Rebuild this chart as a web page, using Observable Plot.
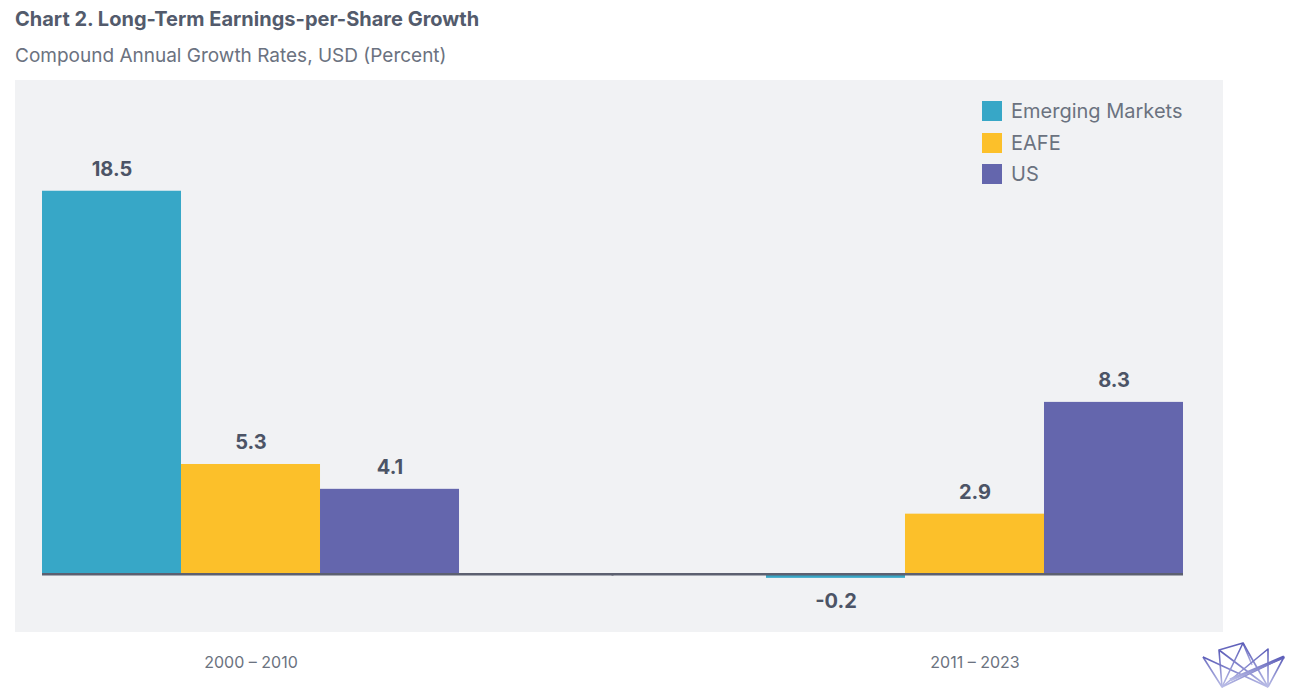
<!DOCTYPE html>
<html>
<head>
<meta charset="utf-8">
<script src="https://cdn.jsdelivr.net/npm/d3@7"></script>
<script src="https://cdn.jsdelivr.net/npm/@observablehq/plot@0.6"></script>
<style>
  html, body { margin: 0; padding: 0; background: #ffffff; width: 1300px; height: 700px; overflow: hidden; font-family: Inter, "Noto Sans", sans-serif; }
  #title { position: absolute; left: 15px; top: 9px; font-size: 20px; line-height: 1; font-weight: 700; color: #535b6c; white-space: nowrap; }
  #subtitle { position: absolute; left: 15px; top: 46px; font-size: 19px; line-height: 1; font-weight: 400; color: #6b7280; white-space: nowrap; }
  #panel { position: absolute; left: 15px; top: 80px; width: 1208px; height: 552px; background: #f1f2f4; }
  #chart { position: absolute; left: 0; top: 72px; }
  #legend { position: absolute; left: 982px; top: 101px; }
  .item { display: flex; align-items: center; height: 20px; margin-bottom: 11.5px; font-size: 20px; color: #6b7280; white-space: nowrap; }
  .sw { width: 20px; height: 20px; margin-right: 9px; flex: none; }
  #logo { position: absolute; left: 1190px; top: 635px; }
</style>
</head>
<body>
<div id="title">Chart 2. Long-Term Earnings-per-Share Growth</div>
<div id="subtitle">Compound Annual Growth Rates, USD (Percent)</div>
<div id="panel"></div>
<div id="chart"></div>
<div id="legend"></div>
<svg id="logo" width="110" height="60" viewBox="0 0 110 60">
  <defs>
    <linearGradient id="lg" x1="0" y1="0" x2="0" y2="1">
      <stop offset="0" stop-color="#5b5cb8"/>
      <stop offset="1" stop-color="#b9bce6"/>
    </linearGradient>
  </defs>
  <g fill="none" stroke="url(#lg)" stroke-width="1.6" stroke-linejoin="round">
    <polyline points="13,22 32,52 29,15 78,52"/>
    <polyline points="13,22 78,52"/>
    <polyline points="29,15 53,8 32,52"/>
    <polyline points="53,8 78,52"/>
    <polyline points="53,8 62,30"/>
    <polyline points="32,52 78,14 78,52"/>
    <polyline points="32,52 94,22 78,52"/>
    <polyline points="40,45 94,22" stroke-width="3"/>
  </g>
</svg>
<script>
const periods = ["2000 – 2010", "2011 – 2023"];
const series = ["Emerging Markets", "EAFE", "US"];
const emergingValues = [18.5, -0.2];
const eafeValues = [5.3, 2.9];
const usValues = [4.1, 8.3];
const colors = ["#37a7c7", "#fcc02a", "#6466ad"];

const valuesBySeries = [emergingValues, eafeValues, usValues];
const data = periods.flatMap((period, i) =>
  series.map((s, j) => ({period, series: s, value: valuesBySeries[j][i]}))
);

const W = 1300, ML = 42, MR = 117, PAD = 0.424;
// width of the empty space between the two facets, so the zero line can bridge it
const step = (W - ML - MR) / (periods.length - PAD);
const gap = step * PAD;

const chart = Plot.plot({
  width: W,
  height: 628,
  marginLeft: ML,
  marginRight: MR,
  marginTop: 4.9,
  marginBottom: 64.2,
  style: {background: "transparent", fontFamily: "Inter, 'Noto Sans', sans-serif", overflow: "visible"},
  fx: {domain: periods, paddingInner: PAD, paddingOuter: 0, round: false, label: null},
  x: {domain: series, padding: 0, round: false, axis: null},
  y: {domain: [-3, 24], axis: null},
  color: {domain: series, range: colors},
  marks: [
    Plot.barY(data, {fx: "period", x: "series", y: "value", fill: "series"}),
    Plot.ruleY([{period: periods[0], v: 0}], {fx: "period", y: "v", insetRight: -gap / 2 - 1, stroke: "#5c6070", strokeWidth: 2.5}),
    Plot.ruleY([{period: periods[1], v: 0}], {fx: "period", y: "v", insetLeft: -gap / 2 - 1, stroke: "#5c6070", strokeWidth: 2.5}),
    Plot.text(data.filter(d => d.value >= 0), {
      fx: "period", x: "series", y: "value", text: d => d.value.toFixed(1),
      lineAnchor: "bottom", dy: -15, fontSize: 20, fontWeight: 700, fill: "#4c5466"
    }),
    Plot.text(data.filter(d => d.value < 0), {
      fx: "period", x: "series", y: "value", text: d => d.value.toFixed(1),
      lineAnchor: "top", dy: 15, fontSize: 20, fontWeight: 700, fill: "#4c5466"
    }),
    Plot.axisFx({anchor: "bottom", tickSize: 0, tickPadding: 20.8, fontSize: 16, fill: "#6b7280", label: null})
  ]
});
document.getElementById("chart").appendChild(chart);

const legend = document.getElementById("legend");
series.forEach((s, i) => {
  const item = document.createElement("div");
  item.className = "item";
  const sw = document.createElement("div");
  sw.className = "sw";
  sw.style.background = colors[i];
  const label = document.createElement("span");
  label.textContent = s;
  item.appendChild(sw);
  item.appendChild(label);
  legend.appendChild(item);
});
</script>
</body>
</html>
